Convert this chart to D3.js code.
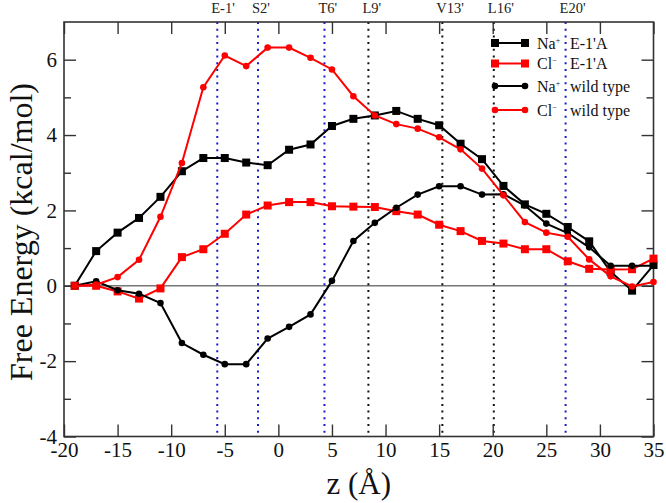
<!DOCTYPE html>
<html>
<head>
<meta charset="utf-8">
<script src="https://cdn.jsdelivr.net/npm/d3@7"></script>
<style>
  body { margin: 0; background: #fff; }
  text { font-family: "Liberation Serif", "DejaVu Serif", serif; }
</style>
</head>
<body>
<div id="chart-area"></div>
<script>
// positions along the pore axis (Angstrom)
var zPos = [-19, -17, -15, -13, -11, -9, -7, -5, -3, -1, 1, 3, 5, 7, 9, 11, 13, 15, 17, 19, 21, 23, 25, 27, 29, 31, 33, 35];

// free energy (kcal/mol)
var naMutant = [0, 0.92, 1.41, 1.80, 2.36, 3.04, 3.39, 3.39, 3.27, 3.20, 3.61, 3.75, 4.24, 4.43, 4.52, 4.64, 4.43, 4.26, 3.77, 3.36, 2.65, 2.16, 1.91, 1.56, 1.18, 0.37, -0.13, 0.55];
var clMutant = [0, 0, -0.15, -0.34, -0.07, 0.76, 0.97, 1.38, 1.89, 2.13, 2.22, 2.22, 2.11, 2.10, 2.09, 1.98, 1.89, 1.62, 1.45, 1.19, 1.12, 0.97, 0.97, 0.65, 0.45, 0.43, 0.44, 0.72];
var naWild = [0, 0.12, -0.12, -0.21, -0.46, -1.52, -1.83, -2.08, -2.08, -1.40, -1.09, -0.76, 0.13, 1.19, 1.67, 2.07, 2.42, 2.64, 2.64, 2.42, 2.43, 2.13, 1.65, 1.40, 1.02, 0.53, 0.53, 0.53];
var clWild = [0, 0.03, 0.23, 0.69, 1.83, 3.26, 5.27, 6.11, 5.83, 6.32, 6.32, 6.05, 5.74, 5.03, 4.52, 4.29, 4.17, 3.94, 3.62, 3.11, 2.40, 1.69, 1.41, 1.30, 0.70, 0.25, -0.02, 0.10];

// residue markers
var residues = ["E-1'", "S2'", "T6'", "L9'", "V13'", "L16'", "E20'"];
var residueZ = [-5.7, -1.9, 4.3, 8.4, 15.3, 20.1, 26.8];
var residueBlue = [true, true, true, false, false, false, true];

var xTicks = [-20, -15, -10, -5, 0, 5, 10, 15, 20, 25, 30, 35];
var yTicks = [-4, -2, 0, 2, 4, 6];
var yMinor = [-3, -1, 1, 3, 5];

var series = [
  { ion: "Na", charge: "+", name: "E-1'A", color: "#000", marker: "square", values: naMutant },
  { ion: "Cl", charge: "\u2212", name: "E-1'A", color: "#f00", marker: "square", values: clMutant },
  { ion: "Na", charge: "+", name: "wild type", color: "#000", marker: "circle", values: naWild },
  { ion: "Cl", charge: "\u2212", name: "wild type", color: "#f00", marker: "circle", values: clWild }
];

var margin = { left: 64, right: 12.5, top: 22, bottom: 66.5 };
var width = 666 - margin.left - margin.right;
var height = 503 - margin.top - margin.bottom;

var svg = d3.select("#chart-area").append("svg")
  .attr("width", 666)
  .attr("height", 503);

var g = svg.append("g")
  .attr("transform", "translate(" + margin.left + "," + margin.top + ")");

var x = d3.scaleLinear().domain([-20, 35]).range([0, width]);
var y = d3.scaleLinear().domain([-4, 7]).range([height, 0]);

// zero line
g.append("line")
  .attr("x1", 0).attr("x2", width)
  .attr("y1", y(0)).attr("y2", y(0))
  .attr("stroke", "#777")
  .attr("stroke-width", 1.6);

// residue lines
g.selectAll(".res-line")
  .data(residues)
  .enter().append("line")
    .attr("class", "res-line")
    .attr("x1", function(d, i) { return x(residueZ[i]); })
    .attr("x2", function(d, i) { return x(residueZ[i]); })
    .attr("y1", 0)
    .attr("y2", height)
    .attr("stroke", function(d, i) { return residueBlue[i] ? "#1a1ad0" : "#111"; })
    .attr("stroke-width", 2)
    .attr("stroke-dasharray", "2,4.7");

svg.selectAll(".res-label")
  .data(residues)
  .enter().append("text")
    .attr("class", "res-label")
    .attr("x", function(d, i) { return margin.left + x(residueZ[i]) - 6; })
    .attr("y", 12.5)
    .attr("font-size", "14.5px")
    .attr("fill", "#222")
    .text(function(d) { return d; });

// axes
var axisColor = "#333";
var plain = function(d) { return String(d); };

var xAxisBottom = g.append("g")
  .attr("transform", "translate(0," + height + ")")
  .call(d3.axisBottom(x).tickValues(xTicks).tickSize(-12).tickPadding(6).tickFormat(plain));
var xAxisTop = g.append("g")
  .call(d3.axisTop(x).tickValues(xTicks).tickSize(-12).tickFormat(""));
var yAxisLeft = g.append("g")
  .call(d3.axisLeft(y).tickValues(yTicks).tickSize(-12).tickPadding(7).tickFormat(plain));
var yMinorLeft = g.append("g")
  .call(d3.axisLeft(y).tickValues(yMinor).tickSize(-7).tickFormat(""));
var yAxisRight = g.append("g")
  .attr("transform", "translate(" + width + ",0)")
  .call(d3.axisRight(y).tickValues(yTicks).tickSize(-12).tickFormat(""));
var yMinorRight = g.append("g")
  .attr("transform", "translate(" + width + ",0)")
  .call(d3.axisRight(y).tickValues(yMinor).tickSize(-7).tickFormat(""));

[xAxisBottom, xAxisTop, yAxisLeft, yMinorLeft, yAxisRight, yMinorRight].forEach(function(a) {
  a.select(".domain").remove();
  a.selectAll("line").attr("stroke", axisColor).attr("stroke-width", 1.4);
  a.selectAll("text")
    .attr("font-family", "Liberation Serif")
    .attr("font-size", "21px")
    .attr("fill", "#111");
});

// frame
g.append("rect")
  .attr("width", width)
  .attr("height", height)
  .attr("fill", "none")
  .attr("stroke", axisColor)
  .attr("stroke-width", 1.6);

// series
var line = d3.line()
  .x(function(d) { return x(d[0]); })
  .y(function(d) { return y(d[1]); });

function drawMarker(sel, s) {
  if (s.marker === "square") {
    sel.append("rect")
      .attr("x", -4).attr("y", -4)
      .attr("width", 8).attr("height", 8)
      .attr("fill", s.color);
  } else {
    sel.append("circle")
      .attr("r", 3.3)
      .attr("fill", s.color);
  }
}

series.forEach(function(s) {
  var pts = zPos.map(function(z, i) { return [z, s.values[i]]; });
  g.append("path")
    .datum(pts)
    .attr("fill", "none")
    .attr("stroke", s.color)
    .attr("stroke-width", 2)
    .attr("d", line);
  g.selectAll(null)
    .data(pts)
    .enter().append("g")
      .attr("transform", function(d) { return "translate(" + x(d[0]) + "," + y(d[1]) + ")"; })
      .each(function() { drawMarker(d3.select(this), s); });
});

// legend
var legendY = [43, 63.5, 86, 110];
var legend = svg.append("g");
series.forEach(function(s, i) {
  var row = legend.append("g").attr("transform", "translate(0," + legendY[i] + ")");
  row.append("line")
    .attr("x1", 495).attr("x2", 525)
    .attr("stroke", s.color)
    .attr("stroke-width", 2);
  [495, 525].forEach(function(px) {
    drawMarker(row.append("g").attr("transform", "translate(" + px + ",0)"), s);
  });
  var t = row.append("text")
    .attr("x", 537)
    .attr("y", 5.5)
    .attr("font-size", "16px")
    .attr("fill", "#111");
  t.append("tspan").text(s.ion);
  t.append("tspan").attr("font-size", "8px").attr("dy", -6).text(s.charge);
  t.append("tspan").attr("x", 570).attr("dy", 6).text(s.name);
});

// axis titles
svg.append("text")
  .attr("x", margin.left + width / 2)
  .attr("y", 494)
  .attr("text-anchor", "middle")
  .attr("font-size", "31px")
  .attr("fill", "#111")
  .text("z (\u00C5)");

svg.append("text")
  .attr("transform", "rotate(-90)")
  .attr("x", -232)
  .attr("y", 32)
  .attr("text-anchor", "middle")
  .attr("font-size", "32px")
  .attr("fill", "#111")
  .text("Free Energy (kcal/mol)");
</script>
</body>
</html>
